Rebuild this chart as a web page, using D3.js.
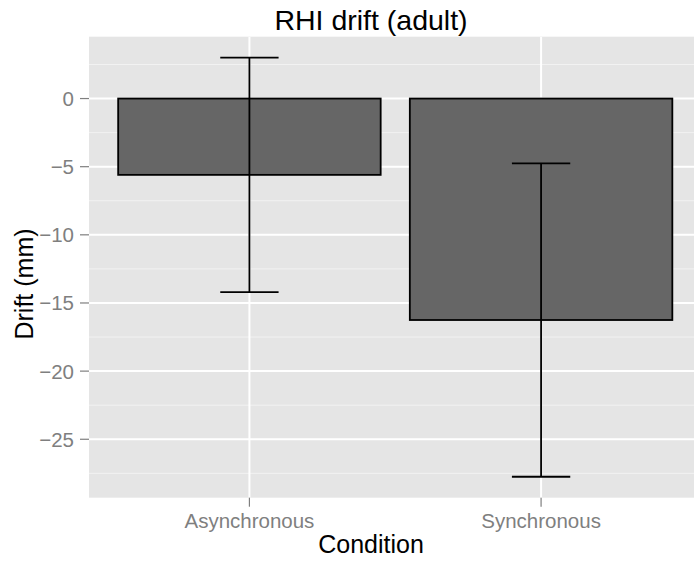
<!DOCTYPE html>
<html>
<head>
<meta charset="utf-8">
<script src="https://cdn.jsdelivr.net/npm/d3@7"></script>
<style>
  html, body { margin: 0; padding: 0; background: #fff; }
  text { font-family: "Liberation Sans", Arial, Helvetica, sans-serif; }
</style>
</head>
<body>
<svg id="chart" width="694" height="561"></svg>
<script>
// ---- data ----
const categories = ["Asynchronous", "Synchronous"];
const means = [-5.6, -16.25];
const errors = [8.6, 11.5];
const yTicks = [0, -5, -10, -15, -20, -25];
const yMinorTicks = [2.5, -2.5, -7.5, -12.5, -17.5, -22.5, -27.5];
const titleText = "RHI drift (adult)";
const xLabel = "Condition";
const yLabel = "Drift (mm)";

// ---- layout ----
const W = 694, H = 561;
const panel = { left: 89, top: 36.7, right: 694, bottom: 497.7 };

const svg = d3.select("#chart");

const lows = means.map((m, i) => m - errors[i]);
const highs = means.map((m, i) => m + errors[i]);
const dMin = Math.min(0, d3.min(lows));
const dMax = Math.max(0, d3.max(highs));
const pad = (dMax - dMin) * 0.05;

const y = d3.scaleLinear()
  .domain([dMin - pad, dMax + pad])
  .range([panel.bottom, panel.top]);

const x = d3.scaleBand()
  .domain(categories)
  .range([panel.left, 701.5])
  .paddingInner(0.1)
  .paddingOuter(0.1);
const step = x.step();
const center = c => x(c) + x.bandwidth() / 2;

const defs = svg.append("defs");
defs.append("clipPath").attr("id", "pclip")
  .append("rect")
  .attr("x", panel.left).attr("y", panel.top)
  .attr("width", panel.right - panel.left)
  .attr("height", panel.bottom - panel.top);

// panel background
svg.append("rect")
  .attr("x", panel.left).attr("y", panel.top)
  .attr("width", panel.right - panel.left)
  .attr("height", panel.bottom - panel.top)
  .attr("fill", "#e5e5e5");

const g = svg.append("g").attr("clip-path", "url(#pclip)");

// minor gridlines
g.selectAll(".minor").data(yMinorTicks).enter().append("line")
  .attr("x1", panel.left).attr("x2", panel.right)
  .attr("y1", d => y(d)).attr("y2", d => y(d))
  .attr("stroke", "#f2f2f2").attr("stroke-width", 1);

// major gridlines
g.selectAll(".major").data(yTicks).enter().append("line")
  .attr("x1", panel.left).attr("x2", panel.right)
  .attr("y1", d => y(d)).attr("y2", d => y(d))
  .attr("stroke", "#ffffff").attr("stroke-width", 2);

g.selectAll(".xmajor").data(categories).enter().append("line")
  .attr("x1", d => center(d)).attr("x2", d => center(d))
  .attr("y1", panel.top).attr("y2", panel.bottom)
  .attr("stroke", "#ffffff").attr("stroke-width", 2);

// bars
g.selectAll(".bar").data(categories).enter().append("rect")
  .attr("x", d => x(d))
  .attr("width", x.bandwidth())
  .attr("y", (d, i) => y(Math.max(0, means[i])))
  .attr("height", (d, i) => Math.abs(y(means[i]) - y(0)))
  .attr("fill", "#666666")
  .attr("stroke", "#000")
  .attr("stroke-width", 1.8);

// error bars
const capHalf = step * 0.1;
categories.forEach((c, i) => {
  const cx = center(c);
  g.append("line")
    .attr("x1", cx).attr("x2", cx)
    .attr("y1", y(highs[i])).attr("y2", y(lows[i]))
    .attr("stroke", "#000").attr("stroke-width", 1.8);
  [highs[i], lows[i]].forEach(v => {
    g.append("line")
      .attr("x1", cx - capHalf).attr("x2", cx + capHalf)
      .attr("y1", y(v)).attr("y2", y(v))
      .attr("stroke", "#000").attr("stroke-width", 1.8);
  });
});

// y axis
const fmt = d3.format("d");
const yAxis = svg.append("g");
yAxis.selectAll("line").data(yTicks).enter().append("line")
  .attr("x1", panel.left - 9).attr("x2", panel.left)
  .attr("y1", d => y(d)).attr("y2", d => y(d))
  .attr("stroke", "#7f7f7f").attr("stroke-width", 1.2);
yAxis.selectAll("text").data(yTicks).enter().append("text")
  .attr("x", panel.left - 15)
  .attr("y", d => y(d))
  .attr("dy", "0.36em")
  .attr("text-anchor", "end")
  .attr("fill", "#7f7f7f")
  .attr("font-size", 20.5)
  .text(d => fmt(d));

// x axis
const xAxis = svg.append("g");
xAxis.selectAll("line").data(categories).enter().append("line")
  .attr("x1", d => center(d)).attr("x2", d => center(d))
  .attr("y1", panel.bottom).attr("y2", panel.bottom + 9)
  .attr("stroke", "#7f7f7f").attr("stroke-width", 1.2);
xAxis.selectAll("text").data(categories).enter().append("text")
  .attr("x", d => center(d))
  .attr("y", 528)
  .attr("text-anchor", "middle")
  .attr("fill", "#7f7f7f")
  .attr("font-size", 20.5)
  .text(d => d);

// titles
svg.append("text")
  .attr("x", 371).attr("y", 30)
  .attr("text-anchor", "middle")
  .attr("font-size", 28.5)
  .attr("fill", "#000")
  .text(titleText);

svg.append("text")
  .attr("x", 371).attr("y", 553)
  .attr("text-anchor", "middle")
  .attr("font-size", 25)
  .attr("fill", "#000")
  .text(xLabel);

svg.append("text")
  .attr("transform", "translate(33,284) rotate(-90)")
  .attr("text-anchor", "middle")
  .attr("font-size", 25)
  .attr("fill", "#000")
  .text(yLabel);
</script>
</body>
</html>
